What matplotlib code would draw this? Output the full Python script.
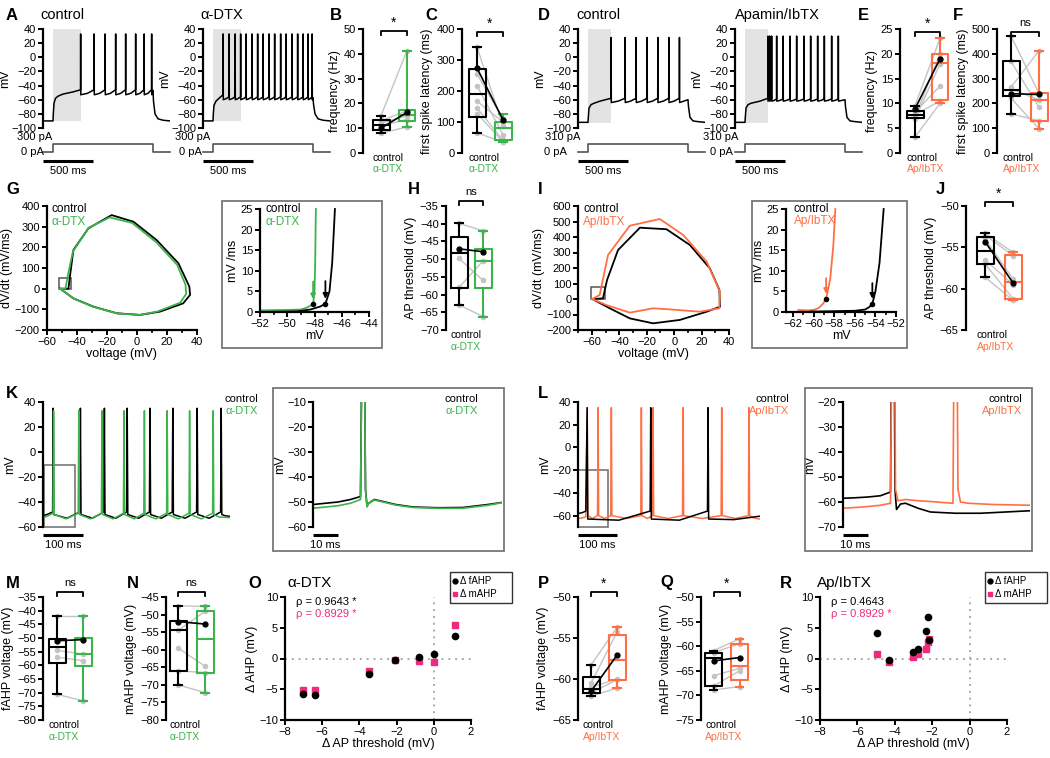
import numpy as np
import matplotlib
matplotlib.use('Agg')
import matplotlib.pyplot as plt
from matplotlib.patches import Rectangle
from matplotlib.lines import Line2D
from matplotlib.transforms import blended_transform_factory as blend

plt.rcParams['font.family'] = ['Liberation Sans', 'DejaVu Sans']
plt.rcParams['font.size'] = 8
plt.rcParams['axes.linewidth'] = 1.6
for a in ('xtick', 'ytick'):
    plt.rcParams[a + '.major.width'] = 1.4
    plt.rcParams[a + '.major.size'] = 3.5
    plt.rcParams[a + '.minor.width'] = 1.2
    plt.rcParams[a + '.minor.size'] = 2.2
    plt.rcParams[a + '.labelsize'] = 8
    plt.rcParams[a + '.major.pad'] = 1.5

GREEN = '#3cb44b'
ORANGE = '#ff6f43'
PINK = '#ee2a7b'
GRAY = '#c4c4c4'

# ---------------- DATA ----------------
# Step protocol (ms, pA)
step_t = [0, 100, 100, 1100, 1100, 1270]
step_A_pA = [0, 0, 300, 300, 0, 0]
step_D_pA = [0, 0, 310, 310, 0, 0]
shade_A = [100, 380]
shade_D = [100, 330]

# A control
A_ctrl_pre_t = [0, 100, 103, 110, 125, 150, 200, 300, 375]
A_ctrl_pre_v = [-90, -90, -80, -65, -58, -55, -52, -49, -46]
A_ctrl_spikes = [375, 510, 620, 725, 825, 925, 1010, 1085]
A_ctrl_post_t = [1100, 1105, 1120, 1150, 1200, 1270]
A_ctrl_post_v = [-47, -62, -80, -87, -89, -90]
# A alpha-DTX
A_dtx_pre_t = [0, 100, 103, 110, 130, 160, 200]
A_dtx_pre_v = [-90, -90, -80, -68, -62, -58, -53]
A_dtx_spikes = [200, 260, 320, 375, 430, 490, 545, 600, 660, 715, 775, 830, 890, 945, 1000, 1050, 1090]
A_dtx_post_t = [1100, 1105, 1120, 1150, 1200, 1270]
A_dtx_post_v = [-57, -66, -80, -87, -89, -90]
# D control
D_ctrl_pre_t = [0, 100, 103, 110, 130, 160, 220, 330]
D_ctrl_pre_v = [-92, -92, -85, -72, -67, -65, -62, -58]
D_ctrl_spikes = [330, 470, 580, 690, 797, 907, 1013]
D_ctrl_post_t = [1100, 1105, 1120, 1150, 1200, 1270]
D_ctrl_post_v = [-60, -70, -85, -90, -91, -92]
# D Apamin/IbTX
D_ap_pre_t = [0, 100, 103, 110, 130, 160, 250, 328]
D_ap_pre_v = [-92, -92, -85, -72, -67, -65, -62, -58]
D_ap_spikes = [328, 345, 365, 415, 480, 548, 615, 688, 755, 825, 892, 965, 1032]
D_ap_post_t = [1100, 1105, 1120, 1150, 1200, 1270]
D_ap_post_v = [-60, -70, -85, -90, -91, -92]

# Box summaries: [min, q1, median, q3, max]
B_ctrl = [8.0, 9.3, 11.2, 13.4, 15.0]
B_dtx = [10.3, 12.8, 15.5, 17.2, 41.3]
B_pairs_ctrl = [15.0, 13.0, 12.0, 11.0, 8.0]
B_pairs_dtx = [41.3, 17.0, 15.0, 13.5, 10.5]
B_example = [10.0, 16.4]

C_ctrl = [65, 116, 190, 271, 342]
C_dtx = [35, 41, 81, 99, 126]
C_pairs_ctrl = [342, 255, 217, 167, 145, 127, 65]
C_pairs_dtx = [88, 110, 59, 100, 41, 37, 35]
C_example = [274, 107]

E_ctrl = [3.2, 7.0, 7.7, 8.5, 9.5]
E_ap = [10.05, 10.7, 18.1, 19.9, 23.1]
E_pairs_ctrl = [9.5, 8.2, 7.7, 7.2, 6.8, 3.2]
E_pairs_ap = [23.1, 13.5, 10.5, 20.0, 18.0, 10.0]
E_example = [8.9, 19.0]

F_ctrl = [158, 231, 255, 369, 472]
F_ap = [98, 130, 214, 241, 413]
F_pairs_ctrl = [472, 369, 265, 258, 221, 158]
F_pairs_ap = [240, 184, 413, 214, 98, 130]
F_example = [239, 236]

H_ctrl = [-62.9, -58.2, -48.2, -43.7, -39.9]
H_dtx = [-66.2, -58.2, -50.5, -47.2, -42.0]
H_pairs_ctrl = [-39.9, -49.8, -62.9, -58.0]
H_pairs_dtx = [-42.0, -56.0, -66.2, -50.5]
H_example = [-47.1, -47.9]

J_ctrl = [-58.6, -57.0, -55.5, -53.8, -53.3]
J_ap = [-61.4, -61.2, -59.2, -55.9, -55.6]
J_pairs_ctrl = [-53.3, -53.5, -54.0, -56.5, -57.0, -58.6]
J_pairs_ap = [-55.6, -56.0, -58.8, -59.5, -61.2, -61.4]
J_example = [-54.3, -59.3]

M_ctrl = [-70.6, -59.0, -53.3, -50.4, -41.8]
M_dtx = [-73.0, -60.2, -55.9, -50.0, -41.8]
M_pairs_ctrl = [-41.8, -54.5, -57.0, -70.6]
M_pairs_dtx = [-41.8, -55.9, -58.3, -73.0]
M_example = [-51.0, -50.6]

N_ctrl = [-70.0, -66.0, -54.3, -51.9, -47.5]
N_dtx = [-72.2, -66.5, -57.0, -49.1, -47.7]
N_pairs_ctrl = [-47.5, -54.5, -59.5, -66.0, -70.0]
N_pairs_dtx = [-47.7, -49.1, -64.7, -66.5, -72.2]
N_example = [-52.0, -52.7]

P_ctrl = [-62.1, -61.7, -61.2, -59.8, -58.3]
P_ap = [-61.1, -60.1, -57.7, -54.6, -53.7]
P_pairs_ctrl = [-58.3, -60.5, -61.0, -61.7, -62.1]
P_pairs_ap = [-53.7, -54.3, -60.0, -60.1, -61.1]
P_example = [-61.5, -57.1]

Q_ctrl = [-68.9, -68.1, -62.3, -61.3, -60.9]
Q_ap = [-68.2, -66.8, -64.1, -59.5, -58.5]
Q_pairs_ctrl = [-60.9, -61.3, -66.0, -68.1, -68.9]
Q_pairs_ap = [-58.5, -59.5, -64.5, -65.0, -68.2]
Q_example = [-63.0, -62.3]

# Phase plots (voltage mV, dV/dt mV/ms)
G_ctrl_v = [-51, -45.5, -44.5, -42.2, -32.2, -16.7, -2.2, 13.3, 27.8, 35.1, 35.6, 31, 15.6, 2.2, -13.3, -28.9, -42.2, -51]
G_ctrl_d = [0, 0, 60, 187, 292, 356, 324, 235, 123, 10, -30, -71, -111, -127, -119, -87, -47, 0]
G_dtx_v = [-51, -47.5, -46, -42.5, -32, -18, -3, 13, 27, 32.5, 33, 29, 14, 2, -13, -29, -42, -51]
G_dtx_d = [0, 0, 60, 180, 295, 345, 318, 225, 115, 20, -25, -68, -110, -127, -120, -88, -48, 0]
I_ctrl_v = [-59.8, -52, -49, -41, -25, -5.6, 11.5, 26, 33, 33.4, 23.7, 4.1, -15.4, -32.4, -47, -59.8]
I_ctrl_d = [0, 4, 123, 316, 460, 450, 348, 198, 58, -50, -82, -135, -157, -125, -60, 0]
I_ap_v = [-59.8, -54.4, -48.3, -32.4, -10.5, 6.6, 23.7, 33.4, 32.9, 18.8, -3.2, -15.4, -32.4, -49.5, -59.8]
I_ap_d = [0, 26, 284, 473, 516, 413, 241, 47, -60, -82, -67, -60, -88, -39, 0]

# Phase-plot insets
Gi_ctrl_v = [-52, -50, -49.2, -48.3, -47.6, -47.2, -46.9, -46.7, -46.5]
Gi_ctrl_d = [0.0, 0.1, 0.2, 0.6, 1.3, 2.0, 5, 12, 25]
Gi_dtx_v = [-52, -50, -49, -48.6, -48.1, -48.0, -47.95, -47.9]
Gi_dtx_d = [0.4, 0.5, 0.6, 1.0, 1.9, 5, 12, 25]
Gi_thr = {'ctrl': (-47.2, 2.0), 'dtx': (-48.1, 1.9)}
Ii_ctrl_v = [-60.3, -58, -56, -55, -54.6, -54.3, -54.0, -53.6, -53.2]
Ii_ctrl_d = [0.1, 0.2, 0.3, 0.6, 1.2, 2.0, 5, 12, 25]
Ii_ap_v = [-61.5, -60.5, -60, -59.5, -59.1, -58.8, -58.4, -58.1, -57.9]
Ii_ap_d = [0.5, 0.4, 0.5, 1.0, 2.0, 3.2, 8, 16, 25]
Ii_thr = {'ctrl': (-54.3, 2.0), 'ap': (-58.8, 3.2)}

# K / L repetitive firing (ms, mV)
K_ctrl_pre_t, K_ctrl_pre_v = [0, 10, 24], [-51, -50, -48]
K_ctrl_spikes = [24, 92, 152, 209, 266, 323, 384, 444]
K_ctrl_post_t, K_ctrl_post_v = [455, 467], [-51, -51.5]
K_dtx_pre_t, K_dtx_pre_v = [0, 10, 25], [-52.5, -51.5, -49]
K_dtx_spikes = [25, 88, 146, 201, 252, 309, 365, 424]
K_dtx_post_t, K_dtx_post_v = [440, 467], [-52, -52.5]
K_zoom = [2, 80, -60, -10]  # t0, t1, v0, v1

Ki_t = [0, 5, 10, 15, 19, 19.8, 20.4, 21.0, 21.6, 22.3, 24.5, 28, 33, 40, 50, 60, 70, 75.5]
Ki_ctrl_v = [-51, -50.5, -50, -49, -47.8, 35, 35, -45, -51.5, -50.5, -49, -49.8, -51, -52, -52.3, -52.2, -51, -50.2]
Ki_dtx_v = [-52.5, -52, -51.5, -50.5, -49, 35, 35, -45, -52, -50.5, -49.2, -50, -51.2, -52.2, -52.5, -52.5, -51.3, -50.3]

L_ctrl_pre_t, L_ctrl_pre_v = [0, 10, 20], [-58, -57.5, -56]
L_ctrl_spikes = [22, 185, 332]
L_ctrl_post_t, L_ctrl_post_v = [400, 466], [-63.5, -60.5]
L_ap_pre_t, L_ap_pre_v = [0, 10, 20], [-62.5, -62, -61]
L_ap_spikes = [22, 50, 84, 161, 191, 268, 367, 437]
L_ap_post_t, L_ap_post_v = [450, 466], [-62, -63]
L_zoom = [0, 77, -70, -20]

Li_ctrl_t = [0, 5, 10, 15, 19, 19.6, 20.3, 20.8, 21.4, 23, 25, 30, 35, 45, 55, 65, 74.8]
Li_ctrl_v = [-58.5, -58.3, -58, -57.5, -56, 35, 35, -55, -63, -60.8, -60.5, -62.5, -64, -64.5, -64.5, -64, -63.5]
Li_ap_t = [0, 5, 10, 15, 19, 19.8, 20.5, 21, 22, 25, 30, 35, 40, 44, 44.6, 45.4, 46, 47, 50, 60, 74.8]
Li_ap_v = [-62.5, -62.2, -61.8, -61.3, -60.5, 35, 35, -55, -59.5, -59, -59.5, -59.8, -60.2, -60.5, 35, 35, -55, -60, -60.5, -61, -61.3]

# Correlations (delta AP threshold, delta AHP)
O_dthr = [-7.05, -6.4, -3.5, -2.1, -0.8, 0.0, 1.15]
O_fAHP = [-5.8, -5.9, -2.5, -0.3, 0.3, 0.7, 3.7]
O_mAHP = [-5.2, -5.1, -2.1, -0.3, -0.4, -0.5, 5.5]
R_dthr = [-4.95, -4.3, -3.05, -2.75, -2.35, -2.25, -2.15]
R_fAHP = [4.2, -0.3, 1.0, 1.5, 4.5, 6.7, 3.0]
R_mAHP = [0.7, -0.6, 0.3, 0.7, 1.6, 2.7, 3.1]

# ---------------- HELPERS ----------------
W, H = 1050, 758
fig = plt.figure(figsize=(10.5, 7.58), dpi=100)


def axp(x0, y0, x1, y1):
    return fig.add_axes([x0 / W, 1 - y1 / H, (x1 - x0) / W, (y1 - y0) / H])


def ftext(x, y, s, **kw):
    kw.setdefault('va', 'center')
    kw.setdefault('ha', 'left')
    fig.text(x / W, 1 - y / H, s, **kw)


def fline(xs, ys, **kw):
    fig.add_artist(Line2D([x / W for x in xs], [1 - y / H for y in ys], **kw))


def frect(x0, y0, x1, y1, **kw):
    fig.add_artist(Rectangle((x0 / W, 1 - y1 / H), (x1 - x0) / W, (y1 - y0) / H,
                             transform=fig.transFigure, fill=False, **kw))


def left_only(ax):
    for s in ('top', 'right', 'bottom'):
        ax.spines[s].set_visible(False)
    ax.set_xticks([])


def lbl(x, y, s):
    ftext(x, y, s, fontsize=12, fontweight='bold')


def build_trace(pre_t, pre_v, spikes, thr, peak, ahp, mid, post_t, post_v, w=1.5):
    t = list(pre_t)
    v = list(pre_v)
    for i, s in enumerate(spikes):
        if i > 0:
            t.append(s)
            v.append(thr)
        t += [s + w, s + 2 * w]
        v += [peak, ahp]
        if i < len(spikes) - 1:
            t.append((s + 2 * w + spikes[i + 1]) / 2)
            v.append(mid)
    return t + list(post_t), v + list(post_v)


def bar(ax, t0, t1, ypx, txt, lw=2.2):
    tr = blend(ax.transData, fig.transFigure)
    ax.plot([t0, t1], [1 - ypx / H] * 2, color='k', lw=lw, transform=tr,
            clip_on=False, solid_capstyle='butt')
    ax.text((t0 + t1) / 2, 1 - (ypx + 10) / H, txt, transform=tr, ha='center',
            va='center', fontsize=8)


def step_panel(x0, tr, shade, shade_lo, cur, cur_lbl, lbl_x, color_peak=None):
    t, v = tr
    ax = axp(x0, 29, x0 + 127, 128)
    ax.fill_between(shade, shade_lo, 40, color='#e3e3e3', lw=0, zorder=0)
    ax.plot(t, v, color='k', lw=1.1, zorder=2)
    ax.set_xlim(0, 1270)
    ax.set_ylim(-100, 40)
    ax.set_yticks(range(-100, 41, 20))
    ax.set_ylabel('mV', fontsize=9, labelpad=0)
    left_only(ax)
    axc = axp(x0, 144, x0 + 127, 152)
    axc.plot(step_t, cur, color='#555555', lw=1.2, clip_on=False)
    axc.set_xlim(0, 1270)
    axc.set_ylim(0, max(cur))
    axc.axis('off')
    ftext(lbl_x[0], 137, cur_lbl, ha='right', fontsize=8)
    ftext(lbl_x[1], 152, '0 pA', ha='right', fontsize=8)
    bar(axc, 0, 500, 160.7, '500 ms')
    return ax


def box_panel(xs, c0, c1, yt, yb, ylim, yticks, ylabel, st0, st1, g0, g1, ex,
              col, lab1, sig, bry, star_dy=9):
    unit = c1 - c0
    ax = axp(xs, yt, c1 + 13, yb)
    ax.set_xlim(-(c0 - xs) / unit, 1 + 13 / unit)
    ax.set_ylim(*ylim)
    for a, b in zip(g0, g1):
        ax.plot([0, 1], [a, b], color=GRAY, lw=1.0, marker='o', ms=3, zorder=1,
                clip_on=False)
    wid = 17 / unit
    for pos, st, c in ((0, st0, 'k'), (1, st1, col)):
        stats = [dict(whislo=st[0], q1=st[1], med=st[2], q3=st[3], whishi=st[4], fliers=[])]
        pr = dict(color=c, lw=1.5)
        ax.bxp(stats, positions=[pos], widths=wid, showfliers=False,
               boxprops=pr, whiskerprops=pr, capprops=pr, medianprops=pr,
               capwidths=wid * 0.45, manage_ticks=False, zorder=2)
    ax.plot([0, 1], ex, color='k', lw=1.2, marker='o', ms=3.5, zorder=5, clip_on=False)
    ax.set_yticks(yticks)
    ax.set_ylabel(ylabel, fontsize=9, labelpad=2)
    left_only(ax)
    ftext(c0 - 8.5, yb + 5, 'control', fontsize=7.5)
    ftext(c0 - 8.5, yb + 16.5, lab1, fontsize=7.5, color=col)
    fline([c0, c0, c1, c1], [bry + 4, bry, bry, bry + 4], color='k', lw=1.3)
    if sig == '*':
        ftext((c0 + c1) / 2, bry - star_dy + 1, '*', ha='center', fontsize=10)
    else:
        ftext((c0 + c1) / 2, bry - star_dy, sig, ha='center', fontsize=8)
    return ax


# ---------------- ROW 1 ----------------
lbl(6, 15, 'A')
ftext(62, 15, 'control', ha='center', fontsize=10.5)
ftext(222, 15, 'α-DTX', ha='center', fontsize=10.5)
step_panel(43, build_trace(A_ctrl_pre_t, A_ctrl_pre_v, A_ctrl_spikes, -46, 33, -53, -51,
                           A_ctrl_post_t, A_ctrl_post_v),
           shade_A, -90, step_A_pA, '300 pA', (52, 44))
step_panel(203, build_trace(A_dtx_pre_t, A_dtx_pre_v, A_dtx_spikes, -56, 33, -60, -58.5,
                            A_dtx_post_t, A_dtx_post_v),
           shade_A, -90, step_A_pA, '300 pA', (210, 202))

lbl(330, 15, 'B')
box_panel(363, 381, 407, 29, 153, (0, 50), range(0, 51, 10), 'frequency (Hz)',
          B_ctrl, B_dtx, B_pairs_ctrl, B_pairs_dtx, B_example, GREEN, 'α-DTX', '*', 31)
lbl(425, 15, 'C')
box_panel(461.7, 477, 503, 29, 153, (0, 400), range(0, 401, 100), 'first spike latency (ms)',
          C_ctrl, C_dtx, C_pairs_ctrl, C_pairs_dtx, C_example, GREEN, 'α-DTX', '*', 32)

lbl(538, 15, 'D')
ftext(598, 15, 'control', ha='center', fontsize=10.5)
ftext(777, 15, 'Apamin/IbTX', ha='center', fontsize=10.5)
step_panel(578, build_trace(D_ctrl_pre_t, D_ctrl_pre_v, D_ctrl_spikes, -58, 28, -64, -62,
                            D_ctrl_post_t, D_ctrl_post_v),
           shade_D, -93, step_D_pA, '310 pA', (580, 567))
step_panel(735, build_trace(D_ap_pre_t, D_ap_pre_v, D_ap_spikes, -59, 30, -62, -61,
                            D_ap_post_t, D_ap_post_v),
           shade_D, -93, step_D_pA, '310 pA', (738, 733))

lbl(858, 15, 'E')
box_panel(900, 915, 940, 29, 153, (0, 25), range(0, 26, 5), 'frequency (Hz)',
          E_ctrl, E_ap, E_pairs_ctrl, E_pairs_ap, E_example, ORANGE, 'Ap/IbTX', '*', 32)
lbl(953, 15, 'F')
box_panel(997, 1011, 1039, 29, 153, (0, 500), range(0, 501, 100), 'first spike latency (ms)',
          F_ctrl, F_ap, F_pairs_ctrl, F_pairs_ap, F_example, ORANGE, 'Ap/IbTX', 'ns', 32)

# ---------------- ROW 2 ----------------
def phase_axes(x0, x1, xlim, ylim, xmaj, xmin, ymaj):
    ax = axp(x0, 206, x1, 330)
    ax.set_xlim(*xlim)
    ax.set_ylim(*ylim)
    ax.set_xticks(xmaj)
    ax.set_xticks(xmin, minor=True)
    ax.set_yticks(ymaj)
    for s in ('top', 'right'):
        ax.spines[s].set_visible(False)
    ax.set_xlabel('voltage (mV)', fontsize=9, labelpad=1)
    ax.set_ylabel('dV/dt (mV/ms)', fontsize=9, labelpad=1)
    return ax


def inset_axes_px(x0, x1, xlim, xmaj, xmin):
    ax = axp(x0, 209, x1, 312)
    ax.set_xlim(*xlim)
    ax.set_ylim(0, 25)
    ax.set_xticks(xmaj)
    ax.set_xticks(xmin, minor=True)
    ax.set_yticks(range(0, 26, 5))
    for s in ('top', 'right'):
        ax.spines[s].set_visible(False)
    ax.set_xlabel('mV', fontsize=9, labelpad=1)
    ax.set_ylabel('mV /ms', fontsize=9, labelpad=1)
    return ax


def thr_mark(ax, pt, c, dy0, dy1):
    ax.plot([pt[0]], [pt[1]], 'o', color='k', ms=3, zorder=6, clip_on=False)
    ax.annotate('', xy=(pt[0], pt[1] + dy1), xytext=(pt[0], pt[1] + dy0),
                arrowprops=dict(arrowstyle='-|>', color=c, lw=1.3, mutation_scale=7,
                                shrinkA=0, shrinkB=0))


lbl(6, 190, 'G')
ax = phase_axes(46.7, 196.7, (-60, 40), (-200, 400), range(-60, 41, 20), range(-50, 40, 20),
                range(-200, 401, 100))
ax.plot(G_ctrl_v, G_ctrl_d, color='k', lw=1.3)
ax.plot(G_dtx_v, G_dtx_d, color=GREEN, lw=1.3)
ax.add_patch(Rectangle((-51.5, -3), 7.5, 56, fill=False, ec='#555555', lw=1.1))
ftext(52, 209, 'control', fontsize=8.5)
ftext(52, 222, 'α-DTX', fontsize=8.5, color=GREEN)

frect(222, 201, 382, 348, ec='#777777', lw=1.3)
ax = inset_axes_px(260, 369, (-52, -44), range(-52, -43, 2), range(-51, -44, 2))
ax.plot(Gi_dtx_v, Gi_dtx_d, color=GREEN, lw=1.3, clip_on=False)
ax.plot(Gi_ctrl_v, Gi_ctrl_d, color='k', lw=1.3, clip_on=False)
thr_mark(ax, Gi_thr['dtx'], GREEN, 5.5, 1.2)
thr_mark(ax, Gi_thr['ctrl'], 'k', 5.5, 1.2)
ftext(265, 209, 'control', fontsize=8.5)
ftext(265, 222, 'α-DTX', fontsize=8.5, color=GREEN)

lbl(408, 190, 'H')
box_panel(445.7, 459, 483, 206, 330, (-70, -35), range(-70, -34, 5), 'AP threshold (mV)',
          H_ctrl, H_dtx, H_pairs_ctrl, H_pairs_dtx, H_example, GREEN, 'α-DTX', 'ns', 201)

lbl(538, 190, 'I')
ax = phase_axes(578.3, 729, (-70, 40), (-200, 600), range(-60, 41, 20), range(-70, 40, 20),
                range(-200, 601, 100))
ax.plot(I_ctrl_v, I_ctrl_d, color='k', lw=1.3)
ax.plot(I_ap_v, I_ap_d, color=ORANGE, lw=1.3)
ax.add_patch(Rectangle((-60.5, -2), 10.3, 77, fill=False, ec='#555555', lw=1.1))
ftext(583, 209, 'control', fontsize=8.5)
ftext(583, 222, 'Ap/IbTX', fontsize=8.5, color=ORANGE)

frect(752, 201, 907, 348, ec='#777777', lw=1.3)
ax = inset_axes_px(786, 896, (-62.7, -52), range(-62, -51, 2), range(-61, -52, 2))
ax.plot(Ii_ap_v, Ii_ap_d, color=ORANGE, lw=1.3, clip_on=False)
ax.plot(Ii_ctrl_v, Ii_ctrl_d, color='k', lw=1.3, clip_on=False)
thr_mark(ax, Ii_thr['ap'], ORANGE, 5, 1.2)
thr_mark(ax, Ii_thr['ctrl'], 'k', 5, 1.2)
ftext(794, 209, 'control', fontsize=8.5)
ftext(794, 221, 'Ap/IbTX', fontsize=8.5, color=ORANGE)

lbl(936, 190, 'J')
box_panel(965.7, 985, 1013, 206, 330, (-65, -50), range(-65, -49, 5), 'AP threshold (mV)',
          J_ctrl, J_ap, J_pairs_ctrl, J_pairs_ap, J_example, ORANGE, 'Ap/IbTX', '*', 202)

# ---------------- ROW 3 ----------------
def fire_axes(x0, x1, xlim, ylim, yticks):
    ax = axp(x0, 402, x1, 527)
    ax.set_xlim(*xlim)
    ax.set_ylim(*ylim)
    ax.set_yticks(yticks)
    ax.set_ylabel('mV', fontsize=9, labelpad=1)
    left_only(ax)
    return ax


lbl(6, 393, 'K')
ax = fire_axes(43, 230, (0, 467.5), (-60, 40), range(-60, 41, 20))
t, v = build_trace(K_ctrl_pre_t, K_ctrl_pre_v, K_ctrl_spikes, -48, 35, -50, -53,
                   K_ctrl_post_t, K_ctrl_post_v)
ax.plot(t, v, color='k', lw=1.1)
t, v = build_trace(K_dtx_pre_t, K_dtx_pre_v, K_dtx_spikes, -49, 33, -50, -53.5,
                   K_dtx_post_t, K_dtx_post_v)
ax.plot(t, v, color=GREEN, lw=1.1)
ax.add_patch(Rectangle((K_zoom[0], K_zoom[2]), K_zoom[1] - K_zoom[0], K_zoom[3] - K_zoom[2],
                       fill=False, ec='#777777', lw=1.2, clip_on=False))
bar(ax, 0, 100, 535, '100 ms')
ftext(258, 399, 'control', ha='right', fontsize=8)
ftext(258, 411, 'α-DTX', ha='right', fontsize=8, color=GREEN)

frect(273, 388, 504, 551, ec='#777777', lw=1.3)
ax = fire_axes(313, 502, (0, 75.6), (-60, -10), range(-60, -9, 10))
ax.plot(Ki_t, Ki_ctrl_v, color='k', lw=1.2)
ax.plot(Ki_t, Ki_dtx_v, color=GREEN, lw=1.2)
bar(ax, 0, 10, 535, '10 ms')
ftext(478, 399, 'control', ha='right', fontsize=8)
ftext(478, 411, 'α-DTX', ha='right', fontsize=8, color=GREEN)

lbl(538, 393, 'L')
ax = fire_axes(578, 760, (0, 466.7), (-70, 40), range(-60, 41, 20))
t, v = build_trace(L_ctrl_pre_t, L_ctrl_pre_v, L_ctrl_spikes, -56, 35, -63, -64,
                   L_ctrl_post_t, L_ctrl_post_v)
ax.plot(t, v, color='k', lw=1.1, zorder=3)
t, v = build_trace(L_ap_pre_t, L_ap_pre_v, L_ap_spikes, -60, 35, -60, -62.5,
                   L_ap_post_t, L_ap_post_v)
ax.plot(t, v, color=ORANGE, lw=1.1, zorder=2)
ax.add_patch(Rectangle((L_zoom[0], L_zoom[2]), L_zoom[1] - L_zoom[0], L_zoom[3] - L_zoom[2],
                       fill=False, ec='#777777', lw=1.2, clip_on=False))
bar(ax, 0, 100, 535, '100 ms')
ftext(789, 399, 'control', ha='right', fontsize=8)
ftext(789, 411, 'Ap/IbTX', ha='right', fontsize=8, color=ORANGE)

frect(805, 388, 1032, 551, ec='#777777', lw=1.3)
ax = fire_axes(843, 1030, (0, 74.8), (-70, -20), range(-70, -19, 10))
ax.plot(Li_ctrl_t, Li_ctrl_v, color='k', lw=1.2)
ax.plot(Li_ap_t, Li_ap_v, color=ORANGE, lw=1.2)
bar(ax, 0, 10, 535, '10 ms')
ftext(1022, 399, 'control', ha='right', fontsize=8)
ftext(1022, 411, 'Ap/IbTX', ha='right', fontsize=8, color=ORANGE)

# ---------------- ROW 4 ----------------
lbl(6, 583, 'M')
box_panel(43, 57, 83, 597, 720, (-80, -35), range(-80, -34, 5), 'fAHP voltage (mV)',
          M_ctrl, M_dtx, M_pairs_ctrl, M_pairs_dtx, M_example, GREEN, 'α-DTX', 'ns', 592)
lbl(127, 583, 'N')
box_panel(166, 178, 205, 597, 720, (-80, -45), range(-80, -44, 5), 'mAHP voltage (mV)',
          N_ctrl, N_dtx, N_pairs_ctrl, N_pairs_dtx, N_example, GREEN, 'α-DTX', 'ns', 592)
lbl(538, 583, 'P')
box_panel(578, 591, 617, 597, 720, (-65, -50), range(-65, -49, 5), 'fAHP voltage (mV)',
          P_ctrl, P_ap, P_pairs_ctrl, P_pairs_ap, P_example, ORANGE, 'Ap/IbTX', '*', 592)
lbl(660, 583, 'Q')
box_panel(701, 713.5, 739.5, 597, 720, (-75, -50), range(-75, -49, 5), 'mAHP voltage (mV)',
          Q_ctrl, Q_ap, Q_pairs_ctrl, Q_pairs_ap, Q_example, ORANGE, 'Ap/IbTX', '*', 592)


def corr_panel(x0, x1, dthr, fahp, mahp, title, tx, rho1, rho2, legx):
    ax = axp(x0, 597, x1, 720)
    ax.set_xlim(-8, 2)
    ax.set_ylim(-10, 10)
    ax.set_xticks(range(-8, 3, 2))
    ax.set_yticks(range(-10, 11, 5))
    for s in ('top', 'right'):
        ax.spines[s].set_visible(False)
    ax.axhline(0, color='#aaaaaa', lw=1.4, ls=(0, (1, 2.5)), zorder=0)
    ax.axvline(0, color='#aaaaaa', lw=1.4, ls=(0, (1, 2.5)), zorder=0)
    ax.plot(dthr, mahp, 's', color=PINK, ms=4.5, zorder=3, clip_on=False)
    ax.plot(dthr, fahp, 'o', color='k', ms=4.5, zorder=4, clip_on=False)
    ax.set_xlabel('Δ AP threshold (mV)', fontsize=9, labelpad=1)
    ax.set_ylabel('Δ AHP (mV)', fontsize=9, labelpad=1)
    ftext(tx, 583, title, fontsize=11)
    ftext(x0 + 11, 602, rho1, fontsize=8)
    ftext(x0 + 11, 614, rho2, fontsize=8, color=PINK)
    frect(legx, 572, legx + 62, 603, ec='#333333', lw=1.0)
    fig.add_artist(Line2D([(legx + 5) / W], [1 - 581 / H], marker='o', color='k', ms=3.5,
                          ls='none'))
    fig.add_artist(Line2D([(legx + 5) / W], [1 - 594 / H], marker='s', color=PINK, ms=3.5,
                          ls='none'))
    ftext(legx + 10, 581, 'Δ fAHP', fontsize=7)
    ftext(legx + 10, 594, 'Δ mAHP', fontsize=7)


lbl(248, 583, 'O')
corr_panel(285, 471, O_dthr, O_fAHP, O_mAHP, 'α-DTX', 287, 'ρ = 0.9643 *', 'ρ = 0.8929 *', 450)
lbl(780, 583, 'R')
corr_panel(820, 1007, R_dthr, R_fAHP, R_mAHP, 'Ap/IbTX', 817, 'ρ = 0.4643', 'ρ = 0.8929 *', 985)

fig.savefig('out.png', dpi=100)
